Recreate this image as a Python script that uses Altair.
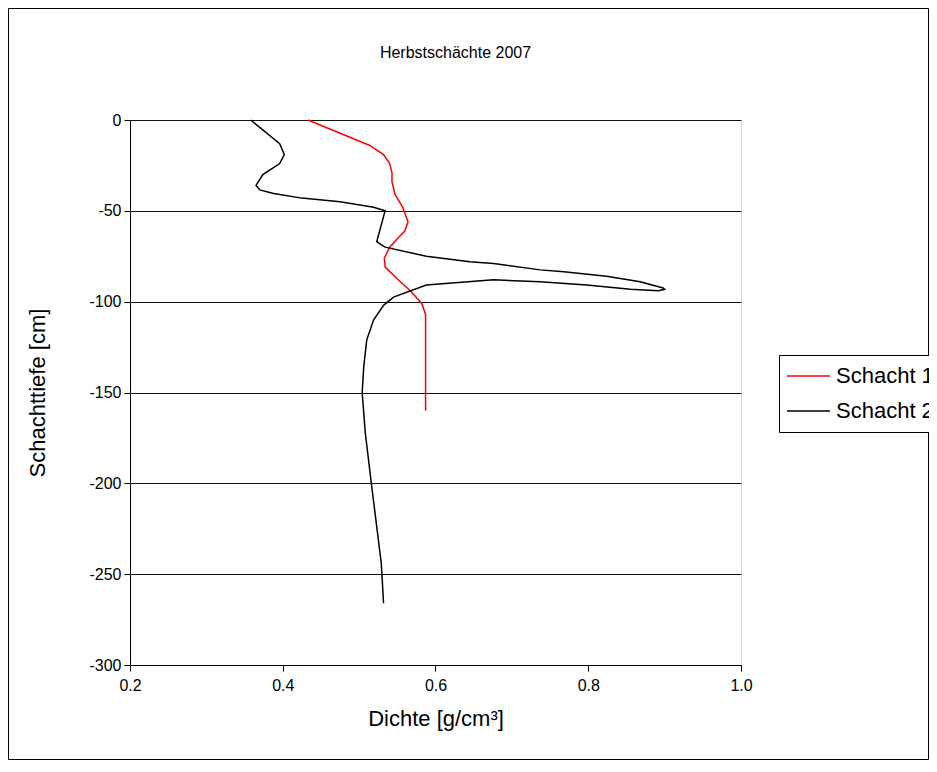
import altair as alt
import pandas as pd

# ---- data ----
series = ["Schacht 1", "Schacht 2"]
colors = ["#ff0000", "#000000"]

dens1 = [0.433, 0.514, 0.532, 0.540, 0.543, 0.543, 0.547, 0.557, 0.564, 0.560,
         0.551, 0.540, 0.533, 0.534, 0.554, 0.567, 0.582, 0.587, 0.587]
depth1 = [0, -14, -19, -24, -29, -34, -41, -48, -56, -61,
          -65, -70, -76, -81, -89, -94, -101, -107, -160]

dens2 = [0.358, 0.396, 0.402, 0.396, 0.374, 0.365, 0.370, 0.388, 0.425, 0.475,
         0.519, 0.534, 0.523, 0.534, 0.588, 0.645, 0.676, 0.737, 0.768, 0.824,
         0.868, 0.898, 0.900, 0.892, 0.855, 0.798, 0.737, 0.676, 0.588, 0.545,
         0.532, 0.519, 0.510, 0.506, 0.504, 0.508, 0.516, 0.529, 0.532]
depth2 = [0, -13, -19, -24, -30, -36, -38.5, -40.5, -43, -45,
          -48, -50, -67, -70, -75, -78, -79, -82.5, -83.5, -86,
          -89, -92.5, -93.2, -94, -93.2, -90.8, -89, -88, -90.8, -97.5,
          -102, -110, -121, -136, -150, -172, -200, -244, -266]

x_ticks = [0.2, 0.4, 0.6, 0.8, 1.0]
y_ticks = [0, -50, -100, -150, -200, -250, -300]

rows = []
for i, (d, t) in enumerate(zip(dens1, depth1)):
    rows.append({"Serie": series[0], "Dichte": d, "Tiefe": t, "idx": i})
for i, (d, t) in enumerate(zip(dens2, depth2)):
    rows.append({"Serie": series[1], "Dichte": d, "Tiefe": t, "idx": i})
df = pd.DataFrame(rows)

FONT = "Liberation Sans"
W, H = 611, 545

lines = alt.Chart(df).mark_line(strokeWidth=1.5).encode(
    x=alt.X("Dichte:Q",
            scale=alt.Scale(domain=[0.2, 1.0], nice=False, zero=False),
            axis=alt.Axis(title="Dichte [g/cm³]", values=x_ticks, format=".1f",
                          grid=False, domainColor="black", tickColor="black",
                          tickSize=6, labelFontSize=16, labelFont=FONT,
                          labelColor="black", labelPadding=6, labelFlush=False,
                          titleFontSize=22, titleFont=FONT, titleColor="black",
                          titleFontWeight="normal", titleX=W / 2, titleY=53,
                          titleBaseline="middle")),
    y=alt.Y("Tiefe:Q",
            scale=alt.Scale(domain=[-300, 0], nice=False, zero=False),
            axis=alt.Axis(title="Schachttiefe [cm]", values=y_ticks,
                          labelExpr="datum.value + ''",
                          grid=True, gridColor="#111111", gridWidth=1,
                          domainColor="black", tickColor="black", tickSize=6,
                          labelFontSize=16, labelFont=FONT, labelColor="black",
                          labelPadding=3, labelFlush=False,
                          titleFontSize=22, titleFont=FONT, titleColor="black",
                          titleFontWeight="normal", titleAngle=270,
                          titleX=-93, titleY=H / 2, titleBaseline="middle",
                          titleAlign="center")),
    color=alt.Color("Serie:N",
                    scale=alt.Scale(domain=series, range=colors),
                    legend=alt.Legend(title=None, orient="none",
                                      legendX=649, legendY=235,
                                      symbolType="stroke", symbolSize=1849,
                                      symbolStrokeWidth=1.5, clipHeight=34,
                                      labelFontSize=22, labelFont=FONT,
                                      labelColor="black", strokeColor="black",
                                      fillColor="white", padding=4,
                                      rowPadding=1, labelOffset=5,
                                      symbolOffset=3)),
    order=alt.Order("idx:Q"),
)

frame = alt.Chart(pd.DataFrame({"a": [0]})).mark_rect(
    fill="white", fillOpacity=0, stroke="black", strokeWidth=1
).encode(
    x=alt.value(-121.5), x2=alt.value(798.5),
    y=alt.value(-111.5), y2=alt.value(639.5),
)

chart = alt.layer(frame, lines).properties(
    width=W, height=H,
    title=alt.TitleParams("Herbstschächte 2007", fontSize=16, font=FONT,
                          fontWeight="normal", color="black", anchor="middle",
                          baseline="middle", dx=20, offset=0, dy=61),
    autosize=alt.AutoSizeParams(type="none"),
    padding={"left": 122, "top": 112, "right": 188, "bottom": 95},
).configure_view(stroke="#808080", strokeWidth=1).configure(background="white")

chart.save("out.html", embed_options={"renderer": "svg", "actions": False})
